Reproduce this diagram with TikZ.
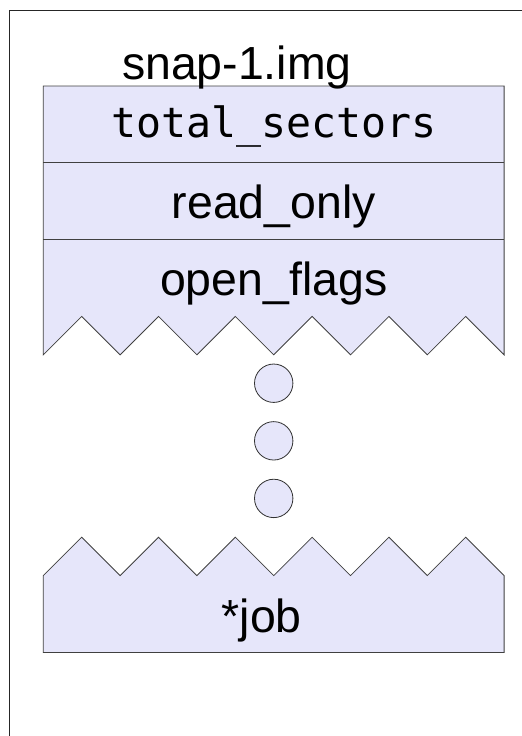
\documentclass[tikz,border=0pt]{standalone}
\usepackage{fontspec}
\setmainfont{Liberation Sans}
\setmonofont{DejaVu Sans Mono}

\definecolor{fieldfill}{RGB}{230,230,250}

\tikzset{
    fieldbox/.style={draw=black!75, fill=fieldfill, line width=0.6pt, line join=miter},
    fieldtext/.style={anchor=base, inner sep=0pt, font=\fontsize{34.4}{40}\selectfont},
    monotext/.style={fieldtext, font=\ttfamily\fontsize{30.8}{36}\selectfont},
    elided/.style={circle, draw=black!80, fill=fieldfill, line width=0.6pt,
        minimum size=1cm, inner sep=0pt},
}

\begin{document}
\begin{tikzpicture}
    \useasboundingbox (-1.128,-16.927) rectangle (12.466,2.240);

    % frame
    \draw[black!85, line width=1pt] (-0.88,-17.5) |- (13,1.966);

    % head of the struct, torn off at the bottom
    \filldraw[fieldbox] (0,-7)
        \foreach \t in {1,...,6} { -- ++(1,1) -- ++(1,-1) }
        -- (12,0) -- (0,0) -- cycle;
    \draw[fieldbox] (0,-2) -- (12,-2);
    \draw[fieldbox] (0,-4) -- (12,-4);

    \node[fieldtext] (name) at (5.04,0.174) {snap-1.img};
    \node[monotext] (sectors) at (6,-1.336) {total\_sectors};
    \node[fieldtext] (readonly) at (6,-3.445) {read\_only};
    \node[fieldtext] (flags) at (6,-5.443) {open\_flags};

    % fields left out
    \foreach \i in {0,1,2}
        \node[elided] (skip\i) at (6,-7.74-1.5*\i) {};

    % tail of the struct, torn off at the top
    \filldraw[fieldbox] (0,-14.75) -- (0,-12.75)
        \foreach \t in {1,...,6} { -- ++(1,1) -- ++(1,-1) }
        -- (12,-14.75) -- cycle;
    \node[fieldtext] (job) at (5.69,-14.22) {*job};
\end{tikzpicture}
\end{document}
